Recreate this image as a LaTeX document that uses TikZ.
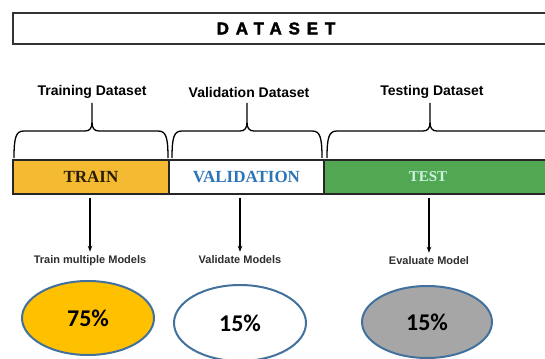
\documentclass[tikz,border=0pt]{standalone}
\usepackage{fontspec}
\setmainfont{Liberation Sans}
\newfontfamily\barfont{Liberation Serif}
\newfontfamily\pctfont{Carlito}
\usetikzlibrary{arrows.meta,shapes.geometric,positioning}
\definecolor{TrainClr}{RGB}{244,186,50}
\definecolor{TestClr}{RGB}{82,168,82}
\definecolor{ValTxtClr}{RGB}{46,117,182}
\definecolor{TestTxtClr}{RGB}{205,242,228}
\definecolor{TrainTxtClr}{RGB}{40,28,8}
\definecolor{EdgeClr}{RGB}{65,113,156}
\definecolor{PctTrainClr}{RGB}{255,192,0}
\definecolor{PctTestClr}{RGB}{166,166,166}
\definecolor{LblClr}{RGB}{45,45,45}

% curly brace: left x, tip x, right x
\newcommand{\splitbrace}[3]{%
  \draw[brace line] (#1,158) .. controls (#1,137) and (#1+2,131) .. (#1+10,131)
    -- (#2-7,131) .. controls (#2-2,131) and (#2,128) .. (#2,122) -- (#2,103)
    (#2,122) .. controls (#2,128) and (#2+2,131) .. (#2+7,131)
    -- (#3-10,131) .. controls (#3-2,131) and (#3,137) .. (#3,158);}

\tikzset{
  brace line/.style={line width=1.3pt,black},
  brace text/.style={font=\fontsize{14}{16}\selectfont\bfseries},
  segment/.style={rectangle,draw=black!85,line width=1.2pt,minimum height=34pt,inner sep=0pt},
  seg text/.style={font=\barfont\bfseries\fontsize{17}{19}\selectfont},
  step text/.style={font=\fontsize{11}{13}\selectfont\bfseries,text=LblClr,inner sep=1pt},
  arr/.style={-{Stealth[length=6pt,width=4.5pt]},line width=1.1pt},
  pct/.style={ellipse,draw=EdgeClr,line width=2pt,minimum width=132pt,minimum height=74pt,
    font=\pctfont\bfseries\fontsize{24}{26}\selectfont}
}

\begin{document}
\begin{tikzpicture}[x=1pt,y=-1pt]
\useasboundingbox (0,0) rectangle (545,358);

% title bar
\draw[line width=1.6pt,black!80] (13,13) rectangle (560,44);
\node[font=\fontsize{17}{19}\selectfont\bfseries\addfontfeature{LetterSpace=40,FakeBold=2}] (dataset) at (276,28.5) {DATASET};

% braces with labels
\node[brace text] (trainset) at (92,92) {Training Dataset};
\node[brace text] (valset) at (249,92) {Validation Dataset};
\node[brace text] (testset) at (432,92) {Testing Dataset};
\splitbrace{14}{92}{168}
\splitbrace{172}{247}{322}
\splitbrace{327}{430}{620}

% split bar
\node[segment,fill=TrainClr,minimum width=156pt,seg text,text=TrainTxtClr] (trainbar) at (91,177) {TRAIN};
\node[segment,fill=white,minimum width=155pt,seg text,text=ValTxtClr] (valbar) at (246.5,177) {VALIDATION};
\node[segment,fill=TestClr,minimum width=236pt,
  label={[seg text,font=\barfont\bfseries\fontsize{15}{17}\selectfont,text=TestTxtClr,xshift=-14pt]center:TEST}] (testbar) at (442,177) {};

% what each part is used for
\node[step text] (trainlbl) at (90,261) {Train multiple Models};
\node[step text] (vallbl) at (240,260) {Validate Models};
\node[step text] (testlbl) at (429,261) {Evaluate Model};

\draw[arr] ([yshift=-3pt]trainbar.south -| trainlbl.north) -- ([yshift=3pt]trainlbl.north);
\draw[arr] ([yshift=-3pt]valbar.south -| vallbl.north) -- ([yshift=3pt]vallbl.north);
\draw[arr] ([yshift=-3pt]testbar.south -| testlbl.north) -- ([yshift=3pt]testlbl.north);

% shares
\node[pct,fill=PctTrainClr] (trainpct) at (88,318) {75\%};
\node[pct,fill=white,minimum height=76pt] (valpct) at (240,323) {15\%};
\node[pct,fill=PctTestClr,minimum width=130pt,minimum height=72pt] (testpct) at (427,322) {15\%};

\end{tikzpicture}
\end{document}
